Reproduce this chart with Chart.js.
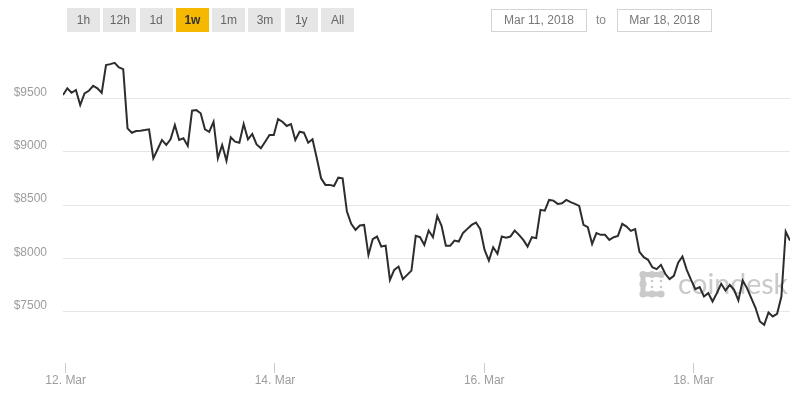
<!DOCTYPE html>
<html>
<head>
<meta charset="utf-8">
<script src="https://cdn.jsdelivr.net/npm/chart.js@4"></script>
<style>
  html, body { margin: 0; padding: 0; background: #fff; }
  #wrap { position: relative; width: 800px; height: 400px; overflow: hidden; font-family: "Liberation Sans", Arial, sans-serif; }
  #c { position: absolute; left: 0; top: 0; }
  .btns { position: absolute; left: 67px; top: 8px; display: flex; }
  .btn { width: 33px; height: 24px; line-height: 24px; margin-right: 3.3px; background: #e6e6e6; color: #666; font-size: 12px; text-align: center; }
  .btn.sel { background: #f6b800; color: #333; font-weight: bold; }
  .date { position: absolute; top: 9px; height: 21px; line-height: 21px; border: 1px solid #d4d4d4; color: #777; font-size: 12px; text-align: center; box-sizing: content-box; }
  .to { position: absolute; top: 9px; line-height: 22px; left: 596px; color: #888; font-size: 12px; }
</style>
</head>
<body>
<div id="wrap">
  <canvas id="c" width="800" height="400"></canvas>
  <div class="btns" id="btns"></div>
  <div class="date" style="left:491px;width:94px;">Mar 11, 2018</div>
  <div class="to">to</div>
  <div class="date" style="left:617px;width:93px;">Mar 18, 2018</div>
</div>
<script>
// ---- data ----
const rangeButtons = ['1h', '12h', '1d', '1w', '1m', '3m', '1y', 'All'];
const selectedRange = '1w';

// hours relative to 12 Mar 2018 00:00 of the first point, and spacing between points
const startHour = -0.62;
const stepHours = 0.9867;

// BTC price (USD)
const prices = [
  9531, 9594, 9552, 9578, 9437, 9547, 9571, 9618, 9594, 9552,
  9812, 9821, 9833, 9790, 9774, 9219, 9178, 9194, 9197, 9203,
  9210, 8938, 9023, 9110, 9063, 9116, 9250, 9110, 9126, 9054,
  9384, 9390, 9360, 9210, 9187, 9281, 8938, 9063, 8916, 9135,
  9094, 9084, 9259, 9116, 9166, 9068, 9032, 9094, 9156, 9156,
  9306, 9281, 9241, 9259, 9110, 9187, 9178, 9084, 9116, 8938,
  8751, 8689, 8689, 8679, 8757, 8751, 8439, 8324, 8267, 8308,
  8314, 8033, 8180, 8205, 8111, 8120, 7799, 7893, 7924, 7806,
  7846, 7886, 8211, 8199, 8127, 8261, 8199, 8398, 8305, 8118,
  8118, 8167, 8158, 8239, 8277, 8314, 8336, 8274, 8080, 7980,
  8105, 8043, 8205, 8195, 8205, 8261, 8221, 8174, 8111, 8199,
  8190, 8455, 8448, 8548, 8542, 8511, 8517, 8548, 8527, 8511,
  8492, 8314, 8293, 8136, 8237, 8221, 8221, 8174, 8199, 8211,
  8324, 8298, 8258, 8274, 8062, 8012, 7987, 7918, 7900, 7940,
  7856, 7806, 7837, 7961, 8018, 7893, 7799, 7712, 7731, 7643,
  7675, 7596, 7675, 7762, 7699, 7753, 7706, 7606, 7793, 7722,
  7628, 7535, 7409, 7378, 7493, 7456, 7481, 7643, 8252, 8167
];

// x-axis ticks (hours from 12 Mar 00:00) and their labels
const dayTickHours = [0, 48, 96, 144];
const dayTickLabels = ['12. Mar', '14. Mar', '16. Mar', '18. Mar'];

// y-axis ticks
const priceTicks = [7500, 8000, 8500, 9000, 9500];
const priceMin = 7020;
const priceMax = 10000;

// ---- buttons ----
const btnWrap = document.getElementById('btns');
rangeButtons.forEach(b => {
  const d = document.createElement('div');
  d.className = 'btn' + (b === selectedRange ? ' sel' : '');
  d.textContent = b;
  btnWrap.appendChild(d);
});

// ---- chart ----
const points = prices.map((p, i) => ({ x: startHour + i * stepHours, y: p }));
const xMin = points[0].x;
const xMax = points[points.length - 1].x;

const watermark = {
  id: 'watermark',
  beforeDatasetsDraw(chart) {
    const ctx = chart.ctx;
    ctx.save();
    ctx.fillStyle = '#cacaca';
    ctx.strokeStyle = '#cacaca';
    // logo mark
    ctx.lineWidth = 5;
    ctx.lineCap = 'round';
    ctx.lineJoin = 'round';
    ctx.beginPath();
    ctx.moveTo(661, 274.5);
    ctx.lineTo(643, 274.5);
    ctx.lineTo(643, 294);
    ctx.lineTo(661, 294);
    ctx.stroke();
    [[643, 274.5], [652, 274.5], [661, 274.5], [643, 284], [643, 294], [652, 294], [661, 294]].forEach(([x, y]) => {
      ctx.beginPath(); ctx.arc(x, y, 3.6, 0, Math.PI * 2); ctx.fill();
    });
    [[652, 281], [652, 287], [661, 281], [661, 287]].forEach(([x, y]) => {
      ctx.beginPath(); ctx.arc(x, y, 1.3, 0, Math.PI * 2); ctx.fill();
    });
    // word
    let size = 32;
    ctx.font = size + 'px Lato, "Open Sans", sans-serif';
    const w = ctx.measureText('coindesk').width;
    size = size * 110 / w;
    ctx.font = size + 'px Lato, "Open Sans", sans-serif';
    ctx.textBaseline = 'alphabetic';
    ctx.textAlign = 'left';
    ctx.fillText('coindesk', 678, 294);
    ctx.restore();
  }
};

new Chart(document.getElementById('c'), {
  type: 'line',
  data: {
    datasets: [{
      data: points,
      borderColor: '#2d2d2d',
      borderWidth: 2,
      pointRadius: 0,
      tension: 0,
      fill: false
    }]
  },
  options: {
    responsive: false,
    animation: false,
    devicePixelRatio: 1,
    layout: { padding: { top: 45, right: 10, left: 0, bottom: 0 } },
    plugins: { legend: { display: false }, tooltip: { enabled: false } },
    scales: {
      x: {
        type: 'linear',
        min: xMin,
        max: xMax,
        afterBuildTicks(scale) { scale.ticks = dayTickHours.map(v => ({ value: v })); },
        afterFit(scale) { scale.height = 37; },
        grid: { drawOnChartArea: false, drawTicks: true, tickLength: 10, color: '#cccccc' },
        border: { display: false },
        ticks: {
          autoSkip: false,
          maxRotation: 0,
          padding: 0,
          color: '#9c9c9c',
          font: { family: '"Liberation Sans", Arial, sans-serif', size: 12 },
          callback(v) { const i = dayTickHours.indexOf(v); return i >= 0 ? dayTickLabels[i] : ''; }
        }
      },
      y: {
        min: priceMin,
        max: priceMax,
        afterBuildTicks(scale) { scale.ticks = priceTicks.map(v => ({ value: v })); },
        afterFit(scale) { scale.width = 63; },
        grid: { drawTicks: false, color: '#e6e6e6', lineWidth: 1 },
        border: { display: false },
        ticks: {
          padding: 16,
          labelOffset: -6,
          color: '#9c9c9c',
          font: { family: '"Liberation Sans", Arial, sans-serif', size: 12 },
          callback(v) { return '$' + v; }
        }
      }
    }
  },
  plugins: [watermark]
});
</script>
</body>
</html>
